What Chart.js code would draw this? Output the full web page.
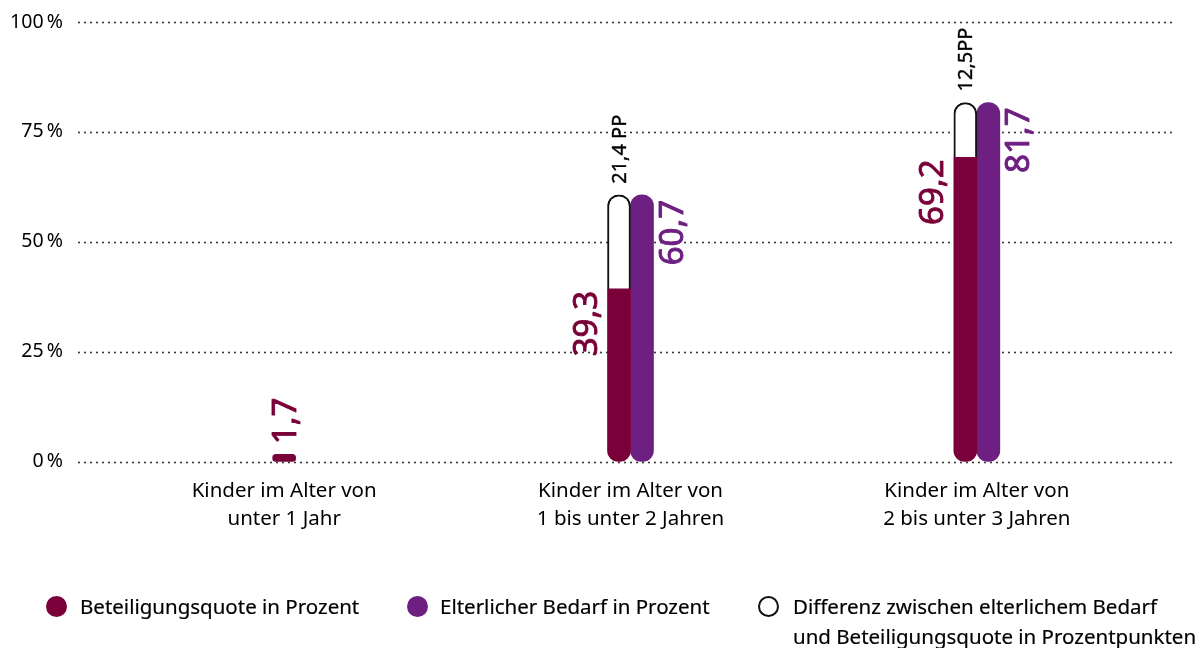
<!DOCTYPE html>
<html lang="de">
<head>
<meta charset="utf-8">
<script src="https://cdn.jsdelivr.net/npm/chart.js@4.4.1/dist/chart.umd.min.js"></script>
<style>
  html, body { margin:0; padding:0; background:#fff; }
  #wrap { position:relative; width:1198px; height:648px; overflow:hidden; }
  #wrap canvas { position:absolute; left:0; top:0; }
  .dot { position:absolute; width:21px; height:21px; border-radius:50%; box-sizing:border-box; }
  .txt { position:absolute; font-family:"Noto Sans", sans-serif; font-size:20.5px; line-height:30px; color:#000; white-space:nowrap; -webkit-text-stroke:0.2px #000; }
</style>
</head>
<body>
<div id="wrap">
  <canvas id="c" width="1198" height="648"></canvas>
  <div id="legend"></div>
</div>
<script>
// ---- data ----
const categories = [
  ['Kinder im Alter von', 'unter 1 Jahr'],
  ['Kinder im Alter von', '1 bis unter 2 Jahren'],
  ['Kinder im Alter von', '2 bis unter 3 Jahren']
];
const beteiligungsquote = [1.7, 39.3, 69.2];
const differenz = [null, 21.4, 12.5];
const elterlicherBedarf = [null, 60.7, 81.7];
const differenzLabels = [null, '21,4 PP', '12,5PP'];
const yTickValues = [0, 25, 50, 75, 100];
const seriesNames = [
  'Beteiligungsquote in Prozent',
  'Elterlicher Bedarf in Prozent',
  'Differenz zwischen elterlichem Bedarf\nund Beteiligungsquote in Prozentpunkten'
];

// ---- styles ----
const MAROON = '#790038';
const PURPLE = '#6d1f82';
const TEXT = '#000';
const FONT = '"Noto Sans", sans-serif';
const R = 12;

const fmt = v => v.toFixed(1).replace('.', ',');

const gridPlugin = {
  id: 'dotGrid',
  beforeDatasetsDraw(chart) {
    const ctx = chart.ctx, y = chart.scales.y;
    ctx.save();
    ctx.strokeStyle = '#111';
    ctx.lineWidth = 1.8;
    ctx.lineCap = 'round';
    ctx.setLineDash([0, 6]);
    yTickValues.forEach(v => {
      const py = Math.round(y.getPixelForValue(v)) + 0.5;
      ctx.beginPath();
      ctx.moveTo(79, py);
      ctx.lineTo(1172, py);
      ctx.stroke();
    });
    ctx.restore();
  }
};

const labelPlugin = {
  id: 'valLabels',
  afterDatasetsDraw(chart) {
    const ctx = chart.ctx;
    const m0 = chart.getDatasetMeta(0), m1 = chart.getDatasetMeta(1), m2 = chart.getDatasetMeta(2);
    const big = 33, cap = big * 0.714;
    const small = 20, capS = small * 0.714;
    const rot = (x, y, text, align, font, color, sw) => {
      ctx.save();
      ctx.translate(x, y);
      ctx.rotate(-Math.PI / 2);
      ctx.font = font;
      ctx.fillStyle = color;
      ctx.strokeStyle = color;
      ctx.lineWidth = sw;
      ctx.lineJoin = 'round';
      ctx.textAlign = align;
      ctx.textBaseline = 'alphabetic';
      ctx.fillText(text, 0, 0);
      if (sw > 0) ctx.strokeText(text, 0, 0);
      ctx.restore();
    };
    beteiligungsquote.forEach((v, i) => {
      const b = m0.data[i];
      if (!b || v == null) return;
      if (differenz[i] == null) {
        rot(b.x + cap / 2, b.y - 10, fmt(v), 'left', `400 ${big}px ${FONT}`, MAROON, 0.9);
      } else {
        rot(b.x - b.width / 2 - 11, b.y + 2, fmt(v), 'right', `400 ${big}px ${FONT}`, MAROON, 0.9);
      }
    });
    elterlicherBedarf.forEach((v, i) => {
      const b = m2.data[i];
      if (!b || v == null) return;
      rot(b.x + b.width / 2 + 6 + cap, b.y + 5, fmt(v), 'right', `400 ${big}px ${FONT}`, PURPLE, 0.9);
    });
    differenz.forEach((v, i) => {
      const b = m1.data[i];
      if (!b || v == null) return;
      rot(b.x + capS / 2, b.y - 11, differenzLabels[i], 'left', `400 ${small}px ${FONT}`, '#000', 0.4);
    });
  }
};

new Chart(document.getElementById('c'), {
  type: 'bar',
  data: {
    labels: categories,
    datasets: [
      {
        label: seriesNames[0],
        data: beteiligungsquote,
        stack: 'a',
        backgroundColor: MAROON,
        borderWidth: 0,
        borderSkipped: false,
        borderRadius: ctx => differenz[ctx.dataIndex] == null
          ? { topLeft: R, topRight: R, bottomLeft: R, bottomRight: R }
          : { topLeft: 0, topRight: 0, bottomLeft: R, bottomRight: R }
      },
      {
        label: seriesNames[2],
        data: differenz,
        stack: 'a',
        backgroundColor: '#ffffff',
        borderColor: '#111111',
        borderWidth: 2,
        borderSkipped: 'bottom',
        borderRadius: { topLeft: R, topRight: R, bottomLeft: 0, bottomRight: 0 }
      },
      {
        label: seriesNames[1],
        data: elterlicherBedarf,
        stack: 'b',
        backgroundColor: PURPLE,
        borderWidth: 0,
        borderSkipped: false,
        borderRadius: { topLeft: R, topRight: R, bottomLeft: R, bottomRight: R }
      }
    ]
  },
  options: {
    responsive: false,
    animation: false,
    events: [],
    skipNull: true,
    barThickness: 23,
    layout: { padding: { top: 22, left: 0, right: 48, bottom: 0 } },
    plugins: { legend: { display: false }, tooltip: { enabled: false } },
    scales: {
      x: {
        stacked: true,
        grid: { display: false, drawTicks: false },
        border: { display: false },
        ticks: {
          color: TEXT,
          font: { family: FONT, size: 20.5, lineHeight: 1.37 },
          padding: 15,
          maxRotation: 0,
          autoSkip: false
        },
        afterFit: s => { s.height = 648 - 461.7; s.paddingLeft = 0; s.paddingRight = 0; }
      },
      y: {
        stacked: true,
        min: 0, max: 100,
        grid: { display: false, drawTicks: false },
        border: { display: false },
        afterBuildTicks: s => { s.ticks = yTickValues.map(v => ({ value: v })); },
        ticks: {
          color: TEXT,
          font: { family: FONT, size: 19.5 },
          padding: 48,
          callback: v => v + '\u202F%'
        },
        afterFit: s => { s.width = 111; s.paddingTop = 0; s.paddingBottom = 0; }
      }
    }
  },
  plugins: [gridPlugin, labelPlugin]
});

// ---- legend (HTML) ----
const legend = document.getElementById('legend');
const legendItems = [
  { dotX: 46, textX: 80, fill: MAROON, border: null, text: seriesNames[0] },
  { dotX: 407, textX: 440, fill: PURPLE, border: null, text: seriesNames[1] },
  { dotX: 758, textX: 793, fill: '#fff', border: '#111', text: seriesNames[2] }
];
legendItems.forEach(it => {
  const d = document.createElement('div');
  d.className = 'dot';
  d.style.left = it.dotX + 'px';
  d.style.top = '596px';
  d.style.background = it.fill;
  if (it.border) d.style.border = '2px solid ' + it.border;
  legend.appendChild(d);
  it.text.split('\n').forEach((line, k) => {
    const t = document.createElement('div');
    t.className = 'txt';
    t.style.left = it.textX + 'px';
    t.style.top = (591 + k * 30) + 'px';
    t.textContent = line;
    legend.appendChild(t);
  });
});
</script>
</body>
</html>
